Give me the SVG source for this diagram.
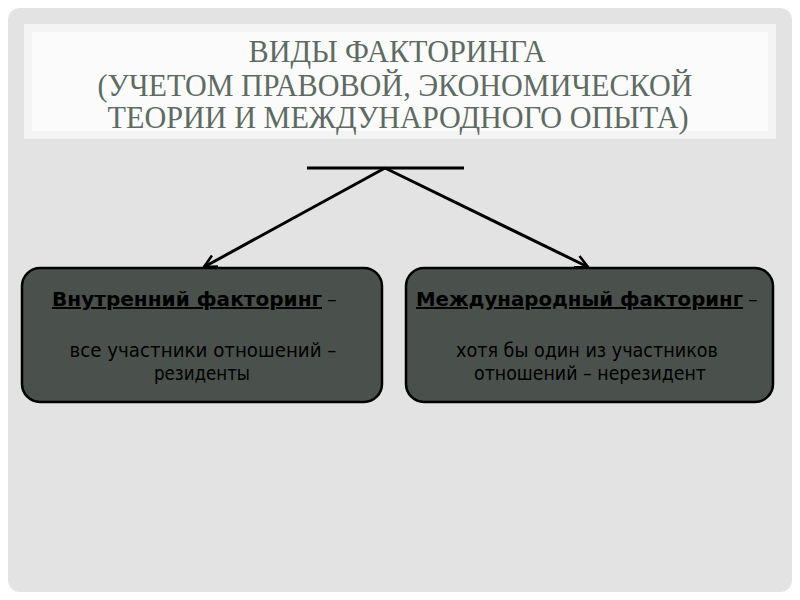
<svg xmlns="http://www.w3.org/2000/svg" width="800" height="600" viewBox="0 0 800 600">
<defs>
<style>
.title{font-family:"Liberation Serif","DejaVu Serif",serif;font-size:31px;fill:#5d6b62;text-anchor:middle}
.box{fill:#4a514c;stroke:#000;stroke-width:2.5}
.t{font-family:"DejaVu Sans","Liberation Sans",sans-serif;font-size:19.5px;fill:#000}
.c{text-anchor:middle}
.b{font-weight:bold;text-decoration:underline}
.conn{stroke:#000;stroke-width:3;fill:none}
</style>
<marker id="ah" viewBox="0 0 12 12" refX="11" refY="6" markerWidth="5" markerHeight="5" orient="auto" markerUnits="strokeWidth">
<path d="M1,1 L11,6 L1,11" fill="none" stroke="#000" stroke-width="2"/>
</marker>
</defs>
<rect x="0" y="0" width="800" height="600" fill="#fff"/>
<rect x="8" y="8" width="784" height="584" rx="12" fill="#e3e3e3"/>
<rect x="24" y="24" width="752" height="115" fill="#f4f4f4"/>
<rect x="32" y="32" width="736" height="99" fill="#fbfbfb"/>
<g id="title">
<text class="title" x="397" y="62" textLength="297" lengthAdjust="spacingAndGlyphs">ВИДЫ ФАКТОРИНГА</text>
<text class="title" x="395" y="96" textLength="595" lengthAdjust="spacingAndGlyphs">(УЧЕТОМ ПРАВОВОЙ, ЭКОНОМИЧЕСКОЙ</text>
<text class="title" x="398" y="128" textLength="581" lengthAdjust="spacingAndGlyphs">ТЕОРИИ И МЕЖДУНАРОДНОГО ОПЫТА)</text>
</g>
<g id="connectors">
<line class="conn" x1="307" y1="168" x2="464" y2="168"/>
<line class="conn" x1="385" y1="168" x2="204" y2="267" marker-end="url(#ah)"/>
<line class="conn" x1="385" y1="168" x2="588" y2="267" marker-end="url(#ah)"/>
</g>
<g id="node-internal">
<rect class="box" x="22" y="268" width="360" height="134" rx="18"/>
<text class="t b" x="52" y="306" textLength="270" lengthAdjust="spacingAndGlyphs">Внутренний  факторинг</text>
<text class="t" x="327" y="306">–</text>
<text class="t c" x="203" y="357" textLength="267" lengthAdjust="spacingAndGlyphs">все участники отношений –</text>
<text class="t c" x="202" y="380" textLength="96" lengthAdjust="spacingAndGlyphs">резиденты</text>
</g>
<g id="node-international">
<rect class="box" x="406" y="268" width="367" height="134" rx="18"/>
<text class="t b" x="416" y="306" textLength="327" lengthAdjust="spacingAndGlyphs">Международный  факторинг</text>
<text class="t" x="748" y="306">–</text>
<text class="t c" x="587" y="357" textLength="262" lengthAdjust="spacingAndGlyphs">хотя бы один из участников</text>
<text class="t c" x="590" y="380" textLength="232" lengthAdjust="spacingAndGlyphs">отношений – нерезидент</text>
</g>
</svg>
